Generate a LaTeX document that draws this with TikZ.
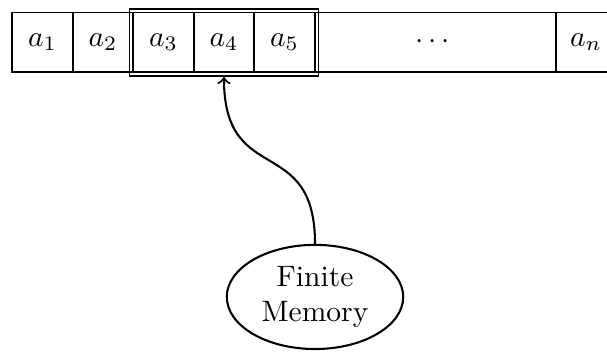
\documentclass[tikz,border=0pt]{standalone}
\usepackage{amsmath}
\usetikzlibrary{arrows,positioning,shapes,fit}

\tikzset{
  cell/.style={draw, minimum width=0.72cm, minimum height=0.71cm, inner sep=0pt, outer sep=0pt},
  window/.style={draw, inner sep=1.3pt}
}

\begin{document}
\begin{tikzpicture}[semithick, node distance=0pt]
    \useasboundingbox (0,0) rectangle (7.226,4.19);

    \node[cell] (a1) at (0.506,3.685) {$a_1$};
    \node[cell, right=of a1] (a2) {$a_2$};
    \node[cell, right=of a2] (a3) {$a_3$};
    \node[cell, right=of a3] (a4) {$a_4$};
    \node[cell, right=of a4] (a5) {$a_5$};
    \node[cell, right=of a5, minimum width=2.87cm] (dots) {$\cdots$};
    \node[cell, right=of dots] (an) {$a_n$};

    \node[window, fit=(a3) (a5)] (head) {};

    \node[draw, line width=0.7pt, ellipse, minimum width=2.1cm, minimum height=1.24cm, inner sep=0pt, align=center] (mem) at (3.75,0.655) {Finite\\Memory};

    \draw [->, line width=0.7pt] (mem.north) to[out=90, in=-90, looseness=1.5] (a4 |- head.south);
  \end{tikzpicture}
\end{document}
